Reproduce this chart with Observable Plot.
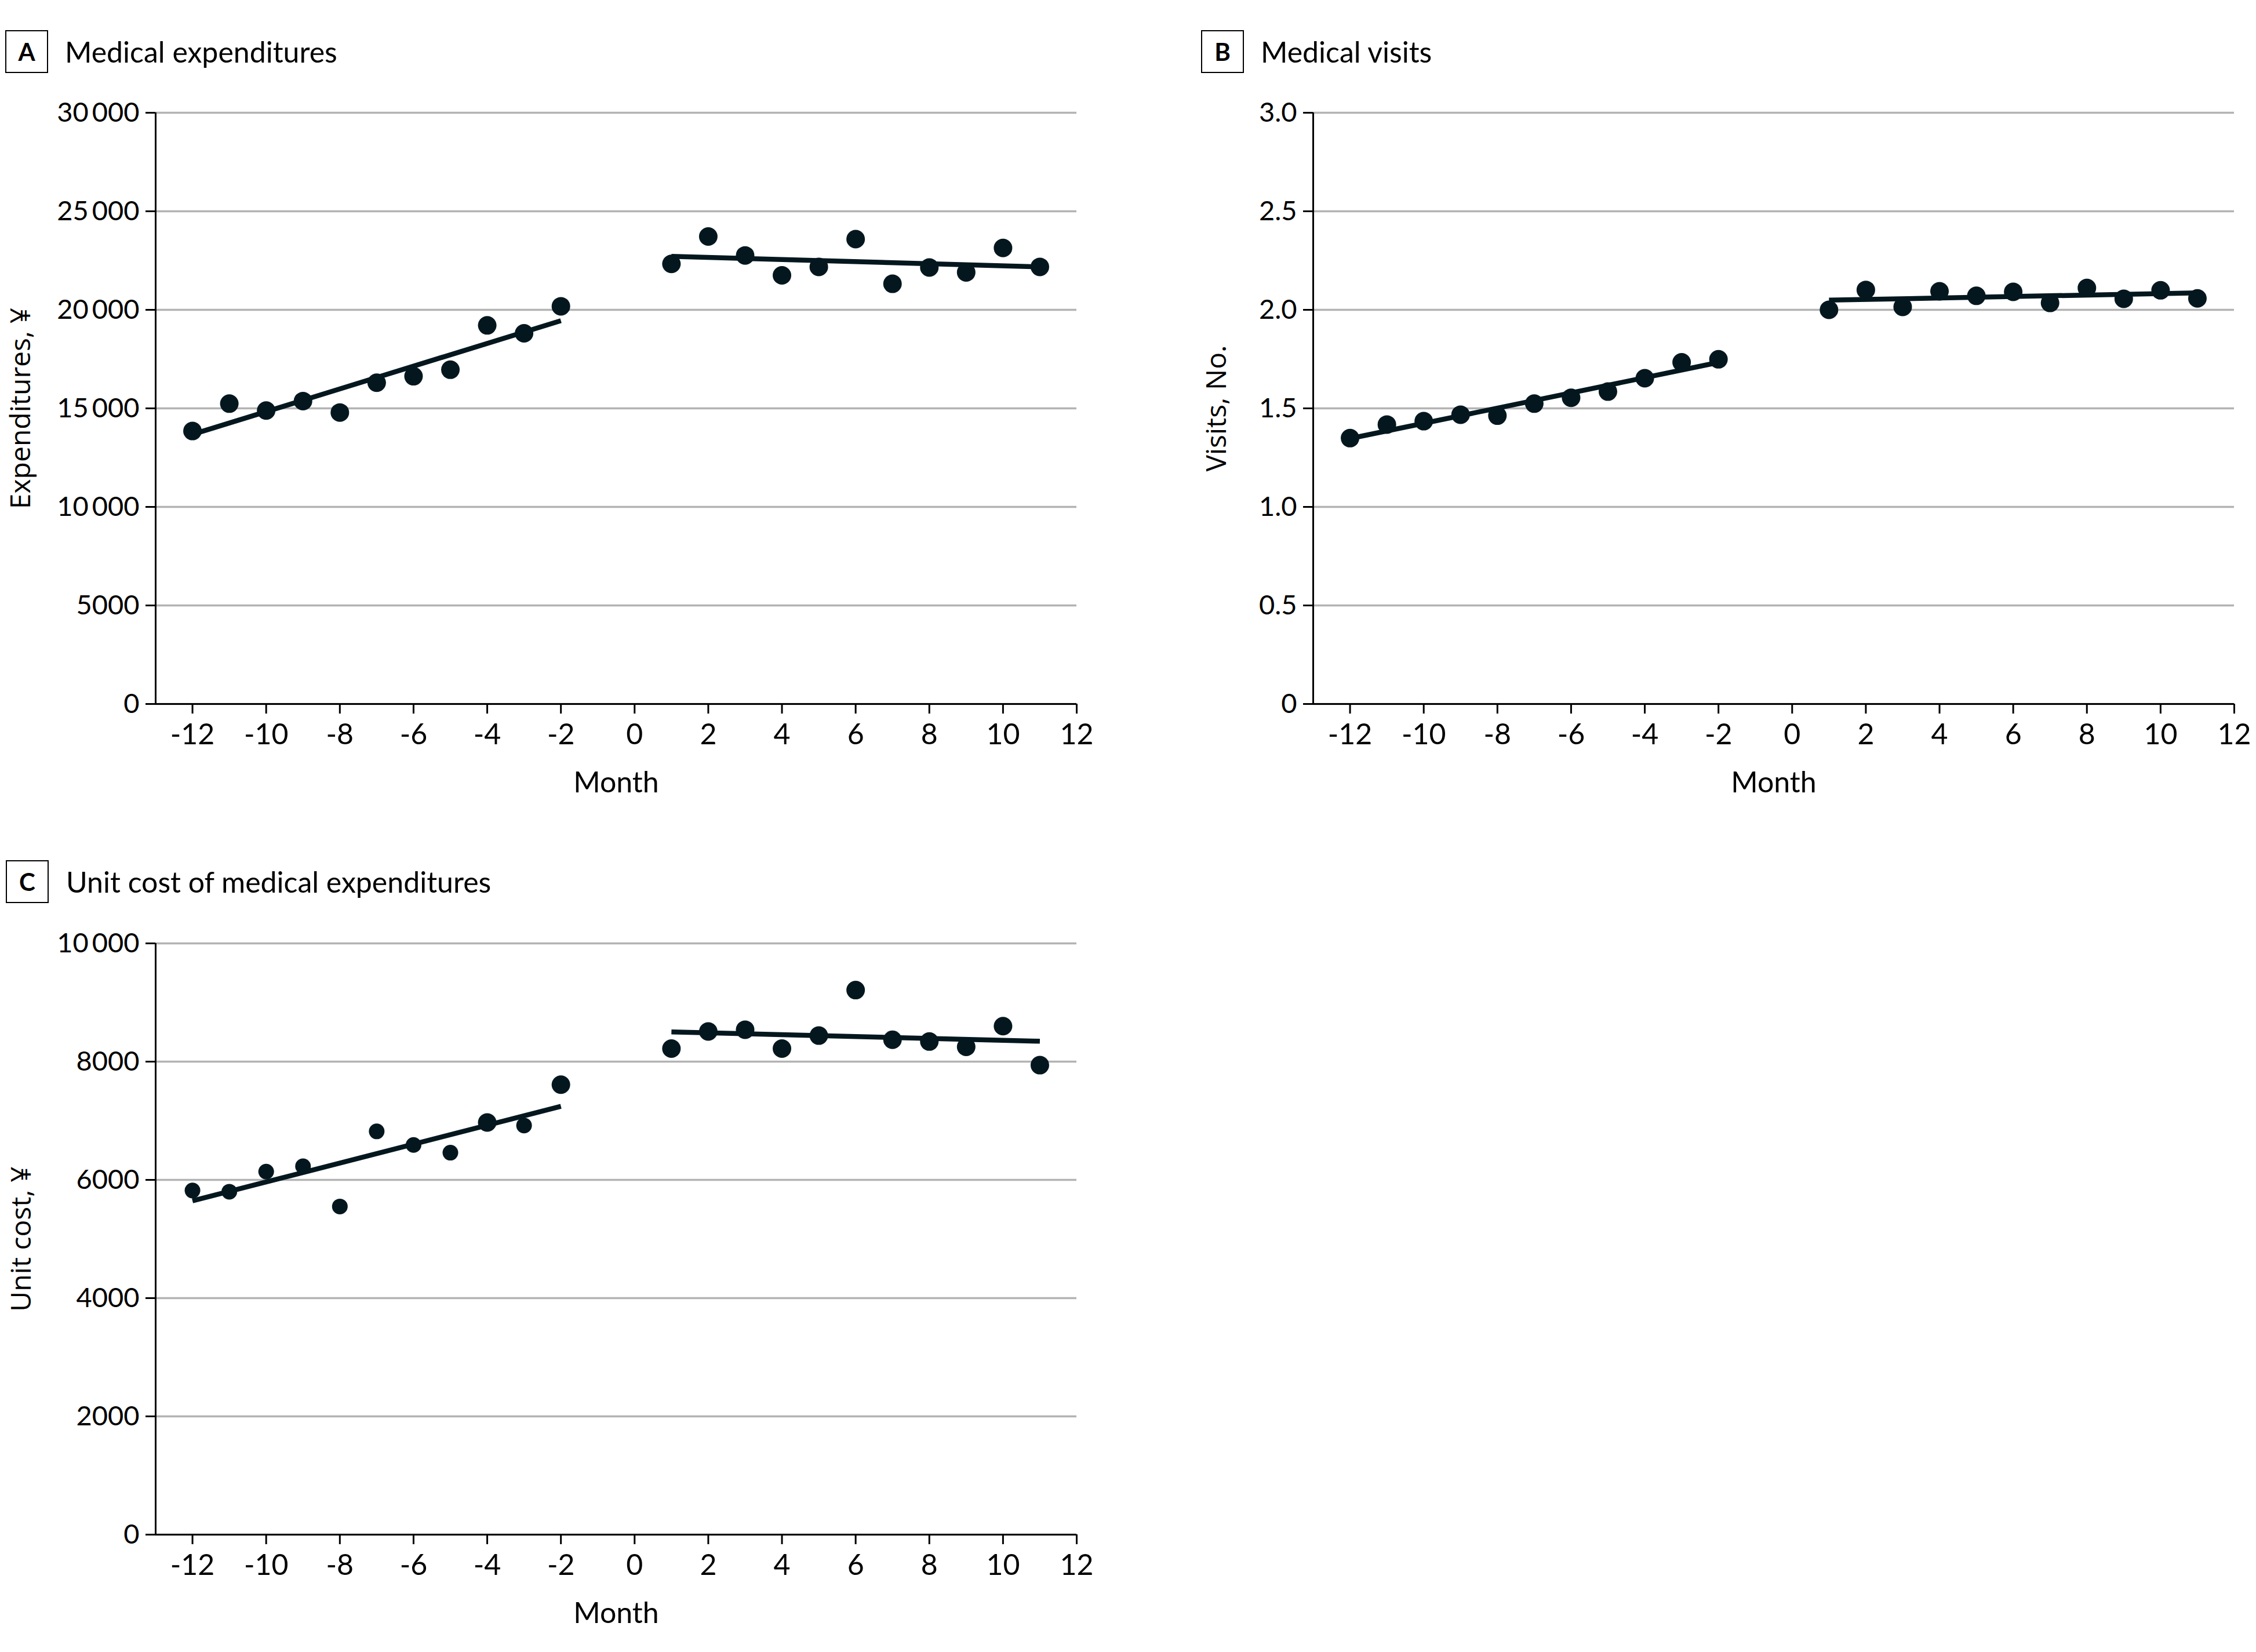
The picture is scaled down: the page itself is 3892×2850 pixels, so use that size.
<!DOCTYPE html>
<html>
<head>
<meta charset="utf-8">
<script src="https://cdn.jsdelivr.net/npm/d3@7"></script>
<script src="https://cdn.jsdelivr.net/npm/@observablehq/plot@0.6"></script>
<style>
  html, body { margin: 0; padding: 0; background: #fff; }
  #page { position: relative; width: 3892px; height: 2850px; background: #fff; overflow: hidden;
          font-family: Lato, "Open Sans", sans-serif; color: #000; }
  .head { position: absolute; display: flex; align-items: center; height: 74px; }
  .tag { box-sizing: border-box; width: 74px; height: 74px; border: 2.5px solid #000;
         display: flex; align-items: center; justify-content: center; font-weight: 700; font-size: 42px; }
  .title { font-size: 50px; margin-left: 29px; white-space: nowrap; }
  .chart { position: absolute; }
  .chart svg [aria-label="x-axis tick label"] { font-size: 50px; }
  .chart svg [aria-label="y-axis tick label"] { font-size: 47px; }
  .chart svg [aria-label="x-axis label"] { font-size: 50px; }
  .chart svg [aria-label="y-axis label"] { font-size: 48px; font-family: "Open Sans", Lato, sans-serif; }
</style>
</head>
<body>
<div id="page"></div>
<script>
// Monthly observations, 12 months before and 11 months after the policy change
const months = [-12, -11, -10, -9, -8, -7, -6, -5, -4, -3, -2, 1, 2, 3, 4, 5, 6, 7, 8, 9, 10, 11];
const expenditures = [13850, 15240, 14890, 15370, 14790, 16300, 16630, 16960, 19210, 18810, 20180,
                      22330, 23720, 22760, 21750, 22180, 23590, 21320, 22150, 21900, 23140, 22180];
const visits = [1.349, 1.418, 1.435, 1.468, 1.463, 1.524, 1.554, 1.585, 1.653, 1.734, 1.749,
                2.000, 2.101, 2.015, 2.094, 2.071, 2.091, 2.035, 2.111, 2.056, 2.099, 2.058];
const unitCost = [5820, 5800, 6140, 6230, 5550, 6820, 6590, 6460, 6970, 6920, 7610,
                  8220, 8510, 8540, 8220, 8440, 9210, 8370, 8340, 8250, 8600, 7940];

// Fitted segmented trends: endpoints of the pre and post segments
const trendMonths = [-12, -2, 1, 11];
const trendSegments = ["pre", "pre", "post", "post"];
const expendituresTrend = [13680, 19450, 22710, 22180];
const visitsTrend = [1.347, 1.733, 2.049, 2.086];
const unitCostTrend = [5645, 7245, 8503, 8345];

// Axes
const monthDomain = [-13, 12];
const monthTicks = [-12, -10, -8, -6, -4, -2, 0, 2, 4, 6, 8, 10, 12];
const expendituresTicks = [0, 5000, 10000, 15000, 20000, 25000, 30000];
const expendituresTickLabels = ["0", "5000", "10\u2009000", "15\u2009000", "20\u2009000", "25\u2009000", "30\u2009000"];
const visitsTicks = [0, 0.5, 1, 1.5, 2, 2.5, 3];
const visitsTickLabels = ["0", "0.5", "1.0", "1.5", "2.0", "2.5", "3.0"];
const unitCostTicks = [0, 2000, 4000, 6000, 8000, 10000];
const unitCostTickLabels = ["0", "2000", "4000", "6000", "8000", "10\u2009000"];

const ink = "#05171e";

function panel({values, trend, yTicks, yTickLabels, yLabel, width, marginLeft, marginRight, labelOffset, dotRadius}) {
  const points = months.map((m, i) => ({month: m, value: values[i]}));
  const fit = trendMonths.map((m, i) => ({month: m, value: trend[i], segment: trendSegments[i]}));
  const tickText = new Map(yTicks.map((t, i) => [t, yTickLabels[i]]));
  const yDomain = [yTicks[0], yTicks[yTicks.length - 1]];
  const radii = [...new Set(points.map(d => dotRadius(d.month)))];
  return Plot.plot({
    width, height: 1260,
    marginTop: 54, marginBottom: 186, marginLeft, marginRight,
    style: {fontFamily: "Lato, 'Open Sans', sans-serif", fontSize: "47px", color: "#000", background: "transparent", overflow: "visible"},
    x: {domain: monthDomain},
    y: {domain: yDomain},
    marks: [
      Plot.gridY(yTicks, {stroke: "#b3b3b3", strokeOpacity: 1, strokeWidth: 3.3}),
      Plot.ruleX([monthDomain[0]], {stroke: "#000", strokeWidth: 3}),
      Plot.ruleY([yDomain[0]], {stroke: "#000", strokeWidth: 3}),
      Plot.axisY(yTicks, {
        tickSize: 17, tickPadding: 11, strokeWidth: 3,
        tickFormat: d => tickText.get(d),
        label: yLabel, labelAnchor: "center", labelArrow: "none", labelOffset
      }),
      Plot.axisX(monthTicks, {
        tickSize: 17, tickPadding: 17, strokeWidth: 3,
        tickFormat: d => String(d),
        label: "Month", labelAnchor: "center", labelArrow: "none", labelOffset: 152
      }),
      Plot.line(fit, {x: "month", y: "value", z: "segment", stroke: ink, strokeWidth: 8.5, strokeLinecap: "butt"}),
      ...radii.map(r => Plot.dot(points, {filter: d => dotRadius(d.month) === r, x: "month", y: "value", r, fill: ink}))
    ]
  });
}

const page = document.getElementById("page");

function addHead(letter, title, left, top, gap) {
  const head = document.createElement("div");
  head.className = "head";
  head.style.left = left + "px";
  head.style.top = top + "px";
  const tag = document.createElement("div");
  tag.className = "tag";
  tag.textContent = letter;
  const text = document.createElement("div");
  text.className = "title";
  text.style.marginLeft = gap + "px";
  text.textContent = title;
  head.append(tag, text);
  page.append(head);
}

function addChart(node, left, top) {
  const wrap = document.createElement("div");
  wrap.className = "chart";
  wrap.style.left = left + "px";
  wrap.style.top = top + "px";
  wrap.append(node);
  page.append(wrap);
}

addHead("A", "Medical expenditures", 9, 52, 29);
addHead("B", "Medical visits", 2072, 52, 29);
addHead("C", "Unit cost of medical expenditures", 10, 1484, 30);

addChart(panel({
  values: expenditures, trend: expendituresTrend,
  yTicks: expendituresTicks, yTickLabels: expendituresTickLabels, yLabel: "Expenditures, ¥",
  width: 1900, marginLeft: 268, marginRight: 43, labelOffset: 251,
  dotRadius: () => 16
}), 0, 140);

addChart(panel({
  values: visits, trend: visitsTrend,
  yTicks: visitsTicks, yTickLabels: visitsTickLabels, yLabel: "Visits, No.",
  width: 1892, marginLeft: 265, marginRight: 38, labelOffset: 185,
  dotRadius: () => 16
}), 2000, 140);

// Pre-period dots in the unit cost panel are drawn slightly smaller, except months -4 and -2
const largerUnitCostMonths = new Set([-4, -2]);
addChart(panel({
  values: unitCost, trend: unitCostTrend,
  yTicks: unitCostTicks, yTickLabels: unitCostTickLabels, yLabel: "Unit cost, ¥",
  width: 1900, marginLeft: 268, marginRight: 43, labelOffset: 250,
  dotRadius: m => (m < 0 && !largerUnitCostMonths.has(m)) ? 13.5 : 16
}), 0, 1573);
</script>
</body>
</html>
